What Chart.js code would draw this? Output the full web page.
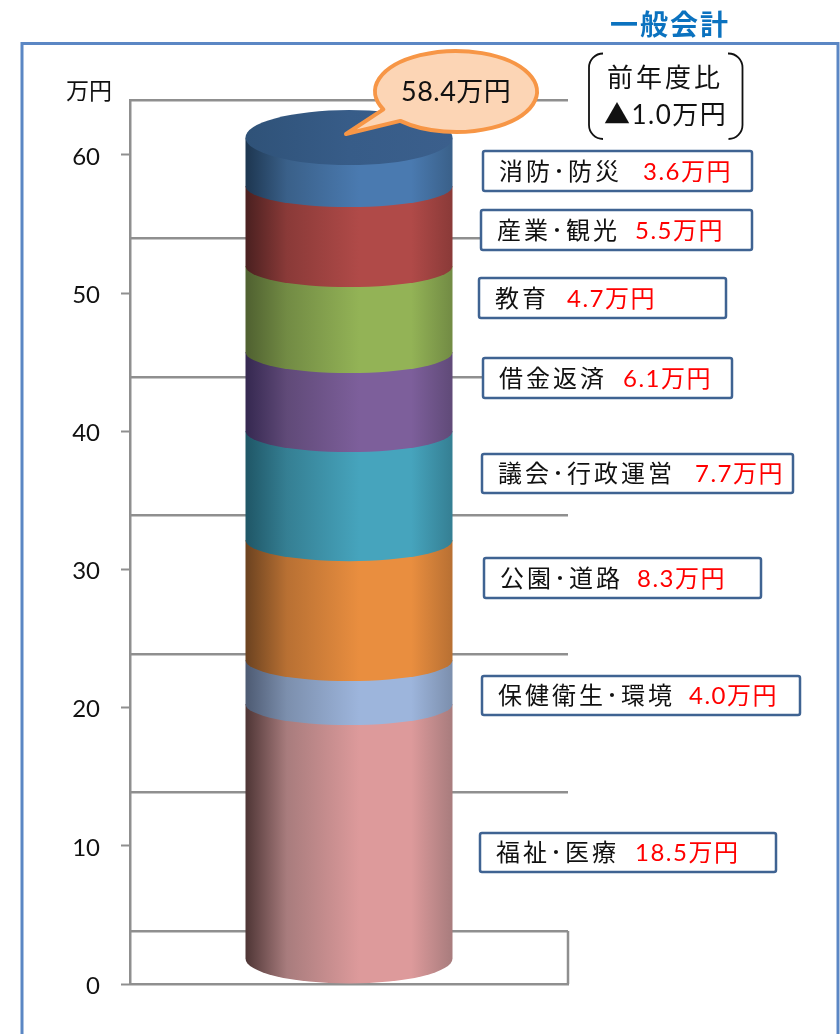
<!DOCTYPE html>
<html lang="ja">
<head>
<meta charset="utf-8">
<style>html,body{margin:0;padding:0;background:#fff}canvas{display:block}</style>
<script src="https://cdn.jsdelivr.net/npm/chart.js@4"></script>
</head>
<body>
<canvas id="c" width="840" height="1034"></canvas>
<script>
// ---- data (bottom of the stack first) ----
const categories = ['一般会計'];
const segmentNames = ['福祉･医療','保健衛生･環境','公園･道路','議会･行政運営','借金返済','教育','産業･観光','消防･防災'];
// values printed in the label boxes
const printedValues = ['18.5万円','4.0万円','8.3万円','7.7万円','6.1万円','4.7万円','5.5万円','3.6万円'];
// heights of the drawn segments as read against the axis
const segmentHeights = [18.74,3.18,8.68,7.89,5.72,6.22,5.79,3.04];
const axisTicks = [0,10,20,30,40,50,60];
const axisUnit = '万円';
const totalLabel = '58.4万円';
const compareLines = ['前年度比','▲1.0万円'];
const titleText = '一般会計';

// ---- styles ----
const lightColors = ['#dd9a9b','#9db5dc','#e98e3f','#46a4bd','#7d5f9b','#93b356','#b04a48','#4a7ab0'];
const darkColors  = ['#4e3535','#4d5a72','#6b4220','#1f5666','#352850','#4f6030','#4a2020','#1d3650'];
const edgeColors  = ['#a87c7d','#7c8fad','#b87033','#357f93','#604a78','#728b44','#8a3a38','#3a6089'];
// label box: left, top, right, bottom, name x, value x
const labelBoxes = [
 [480,833,776,872,496,635],[482,676,800,715,498,689],[484,558,761,598,500,637],[482,454,793,493,498,695],
 [483,358,732,398,499,623],[479,278,726,318,495,567],[481,210,752,250,497,635],[483,151,752,191,499,643]];
const GRID='#8f8f8f', JP='"Lato","Noto Sans CJK JP",sans-serif';

function segGradient(ctx,x0,x1,i){
  const g=ctx.createLinearGradient(x0,0,x1,0);
  g.addColorStop(0,darkColors[i]);
  g.addColorStop(.2,edgeColors[i]);
  g.addColorStop(.55,lightColors[i]);
  g.addColorStop(.8,lightColors[i]);
  g.addColorStop(1,edgeColors[i]);
  return g;
}
const cylinder={
  id:'cylinder',
  beforeDatasetDraw(){return false;},
  beforeDatasetsDraw(chart){
    // floor side wall
    const {ctx,chartArea:a,scales}=chart;
    ctx.save();ctx.strokeStyle=GRID;ctx.lineWidth=2.5;ctx.beginPath();
    ctx.moveTo(a.right,scales.y2.getPixelForValue(0));ctx.lineTo(a.right,a.bottom);ctx.stroke();ctx.restore();
  },
  afterDatasetsDraw(chart){
    const ctx=chart.ctx;
    const n=chart.data.datasets.length;
    let x0,x1,cx,rx,topY;
    for(let i=0;i<n;i++){
      const b=chart.getDatasetMeta(i).data[0];
      x0=b.x-b.width/2;x1=b.x+b.width/2;cx=b.x;rx=b.width/2;
      const baseRy=i===0?25:21, topRy=i===n-1?27:21;
      ctx.save();ctx.beginPath();
      ctx.moveTo(x0,b.y-topRy);
      ctx.lineTo(x0,b.base-baseRy);
      ctx.ellipse(cx,b.base-baseRy,rx,baseRy,0,Math.PI,0,true);
      ctx.lineTo(x1,b.y-topRy);
      ctx.closePath();
      ctx.fillStyle=segGradient(ctx,x0,x1,i);
      ctx.fill();ctx.restore();
      topY=b.y;
    }
    ctx.save();ctx.beginPath();
    ctx.ellipse(cx,topY-27.5,rx,27.5,0,0,Math.PI*2);
    const g=ctx.createLinearGradient(x0,0,x1,0);
    g.addColorStop(0,'#2f5278');g.addColorStop(.5,'#375c88');g.addColorStop(1,'#3b5f8c');
    ctx.fillStyle=g;ctx.fill();ctx.restore();
  }
};
const decorations={
  id:'decorations',
  beforeDraw(chart){
    const ctx=chart.ctx;
    ctx.save();
    ctx.strokeStyle='#5b87c4';ctx.lineWidth=3;
    ctx.strokeRect(22,43.5,816,1100);
    ctx.textBaseline='middle';ctx.textAlign='left';
    ctx.fillStyle='#0b72bf';ctx.font='bold 28px "Noto Sans CJK JP"';ctx.letterSpacing='2px';
    ctx.fillText(titleText,610,24);
    ctx.fillStyle='#111';ctx.font='23px "Noto Sans CJK JP"';ctx.letterSpacing='0px';
    ctx.fillText(axisUnit,66,90);
    ctx.restore();
  },
  afterDraw(chart){
    const ctx=chart.ctx;
    ctx.save();
    ctx.textBaseline='middle';ctx.textAlign='left';
    // labels
    segmentNames.forEach((nm,i)=>{
      const [l,t,r,bm,nx,vx]=labelBoxes[i];
      ctx.beginPath();ctx.roundRect(l,t,r-l,bm-t,2);
      ctx.fillStyle='#fff';ctx.fill();
      ctx.lineWidth=2.5;ctx.strokeStyle='#3f6392';ctx.stroke();
      const cy=(t+bm)/2+1;
      ctx.font='24px '+JP;ctx.fillStyle='#111';ctx.letterSpacing='3px';ctx.fillText(nm,nx,cy);
      ctx.letterSpacing='1.5px';ctx.fillStyle='#ff0000';ctx.fillText(printedValues[i],vx,cy);
    });
    // callout
    ctx.beginPath();
    const a1=Math.atan2((109-91.5)/40.5,(385-456)/81), a2=Math.atan2((120-91.5)/40.5,(402-456)/81);
    ctx.ellipse(456,91.5,81,40.5,0,a1,a2,false);
    ctx.lineTo(346,134);
    ctx.closePath();
    ctx.fillStyle='#fcd5b5';ctx.fill();
    ctx.strokeStyle='#f79646';ctx.lineWidth=4;ctx.lineJoin='round';ctx.stroke();
    ctx.fillStyle='#111';ctx.font='27px '+JP;ctx.letterSpacing='0.5px';
    ctx.fillText(totalLabel,401,92);
    // bracket pair
    ctx.strokeStyle='#111';ctx.lineWidth=1.8;
    ctx.beginPath();ctx.moveTo(603,53.5);ctx.arcTo(589,53.5,589,70,14);ctx.lineTo(589,125);ctx.arcTo(589,139,603,139,14);ctx.stroke();
    ctx.beginPath();ctx.moveTo(728,53.5);ctx.arcTo(742.5,53.5,742.5,70,14);ctx.lineTo(742.5,125);ctx.arcTo(742.5,139,728,139,14);ctx.stroke();
    ctx.fillStyle='#111';
    ctx.font='26px '+JP;ctx.letterSpacing='3px';
    ctx.fillText(compareLines[0],607,79);
    ctx.letterSpacing='1.5px';ctx.font='26px '+JP;
    ctx.fillText(compareLines[1],604,116);
    ctx.restore();
  }
};
new Chart(document.getElementById('c'),{
  type:'bar',
  data:{
    labels:categories,
    datasets:segmentNames.map((nm,i)=>({label:nm,data:[segmentHeights[i]],backgroundColor:lightColors[i],yAxisID:'y'}))
  },
  plugins:[cylinder,decorations],
  options:{
    responsive:false,animation:false,
    layout:{padding:{left:0,right:272,top:100,bottom:50}},
    barPercentage:207/438,categoryPercentage:1,
    plugins:{legend:{display:false},tooltip:{enabled:false},title:{display:false}},
    scales:{
      x:{stacked:true,
         grid:{display:false,drawTicks:false},
         border:{display:true,color:GRID,width:2.5},
         ticks:{display:false},
         afterFit(s){s.height=0;}},
      y:{stacked:true,position:'left',min:0,max:63.97,
         afterBuildTicks(s){s.ticks=axisTicks.map(v=>({value:v}));},
         afterFit(s){s.width=130;},
         grid:{drawOnChartArea:false,drawTicks:true,tickColor:GRID,tickLength:9,tickWidth:2},
         border:{display:true,color:GRID,width:2.5},
         ticks:{padding:21,labelOffset:2,color:'#111',font:{family:'Lato',size:24},autoSkip:false,callback:v=>String(v)}},
      y2:{position:'left',min:-3.83,max:60,
         afterBuildTicks(s){s.ticks=axisTicks.map(v=>({value:v}));},
         afterFit(s){s.width=0;},
         grid:{color:GRID,lineWidth:2.5,drawTicks:false},
         border:{display:false},
         ticks:{display:false}}
    }
  }
});
</script>
</body>
</html>
